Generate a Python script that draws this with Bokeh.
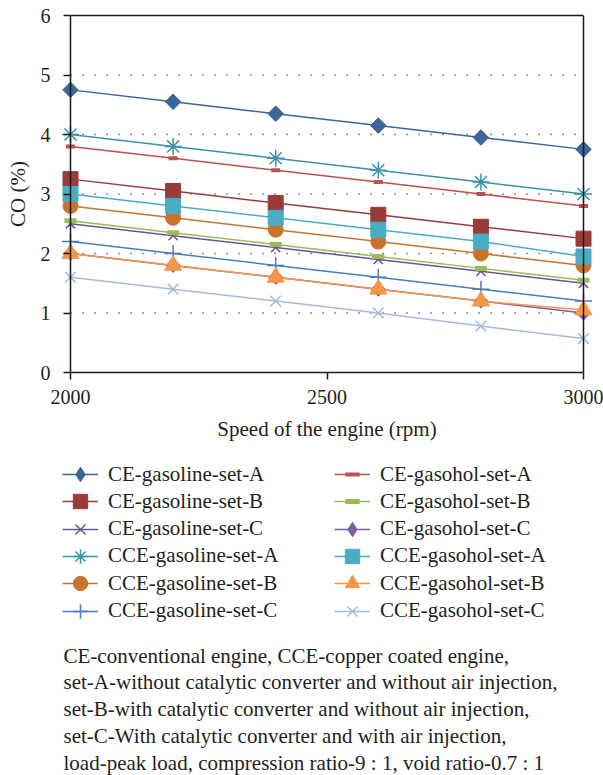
import numpy as np
from bokeh.plotting import figure
from bokeh.layouts import column
from bokeh.models import (Range1d, LinearAxis, FixedTicker, Legend, LegendItem,
                          Label, ColumnDataSource, Span)
from bokeh.embed import file_html
from bokeh.resources import INLINE

# ---------------- data ----------------
speed = [2000, 2200, 2400, 2600, 2800, 3000]

ce_gasoline_a = [4.75, 4.55, 4.35, 4.15, 3.95, 3.75]
ce_gasoline_b = [3.25, 3.05, 2.85, 2.65, 2.45, 2.25]
ce_gasoline_c = [2.50, 2.30, 2.10, 1.90, 1.70, 1.50]
cce_gasoline_a = [4.00, 3.80, 3.60, 3.40, 3.20, 3.00]
cce_gasoline_b = [2.80, 2.60, 2.40, 2.20, 2.00, 1.80]
cce_gasoline_c = [2.20, 2.00, 1.80, 1.60, 1.40, 1.20]
ce_gasohol_a = [3.80, 3.60, 3.40, 3.20, 3.00, 2.80]
ce_gasohol_b = [2.55, 2.35, 2.15, 1.95, 1.75, 1.55]
ce_gasohol_c = [2.00, 1.80, 1.60, 1.40, 1.20, 1.00]
cce_gasohol_a = [3.00, 2.80, 2.60, 2.40, 2.20, 1.95]
cce_gasohol_b = [2.00, 1.80, 1.60, 1.40, 1.20, 1.05]
cce_gasohol_c = [1.60, 1.40, 1.20, 1.00, 0.78, 0.57]

series_names = ["CE-gasoline-set-A", "CE-gasoline-set-B", "CE-gasoline-set-C",
                "CCE-gasoline-set-A", "CCE-gasoline-set-B", "CCE-gasoline-set-C",
                "CE-gasohol-set-A", "CE-gasohol-set-B", "CE-gasohol-set-C",
                "CCE-gasohol-set-A", "CCE-gasohol-set-B", "CCE-gasohol-set-C"]
series_values = [ce_gasoline_a, ce_gasoline_b, ce_gasoline_c,
                 cce_gasoline_a, cce_gasoline_b, cce_gasoline_c,
                 ce_gasohol_a, ce_gasohol_b, ce_gasohol_c,
                 cce_gasohol_a, cce_gasohol_b, cce_gasohol_c]

x_ticks = [2000, 2500, 3000]
y_ticks = [0, 1, 2, 3, 4, 5, 6]
grid_ticks = [1, 2, 3, 4, 5]
y_min, y_max = 0, 6

x_title = "Speed of the engine (rpm)"
y_title = "CO (%)"
caption_lines = [
    "CE-conventional engine, CCE-copper coated engine,",
    "set-A-without catalytic converter and without air injection,",
    "set-B-with catalytic converter and without air injection,",
    "set-C-With catalytic converter and with air injection,",
    "load-peak load, compression ratio-9 : 1, void ratio-0.7 : 1",
]

# ---------------- styles ----------------
colors = ["#3D6598", "#983B39", "#6C5593", "#3A93A6", "#C8742F", "#4A7EBB",
          "#C0504D", "#9BBB59", "#7D5FA0", "#4BACC6", "#F79646", "#A5B9DB"]
markers = ["square", "square", "x", "asterisk", "circle", "cross",
           "dash", "dash", "square", "square", "triangle", "x"]
legend_markers = ["diamond", "square", "x", "asterisk", "circle", "cross",
                  "dash", "dash", "diamond", "square", "triangle", "x"]
msizes = [11, 15, 13, 17, 15, 17, 9, 12, 10, 15, 17, 15]
mangles = [np.pi / 4, 0, 0, 0, 0, 0, 0, 0, np.pi / 4, 0, 0, 0]
mlw = [1, 1, 1.5, 1.5, 1, 1.5, 4, 5, 1, 1, 1, 1.5]

FONT = "Liberation Serif"
TXT = "#231F20"
AX = "#1a1a1a"

# ---------------- chart figure ----------------
W = 603
H1 = 452
ML, MR, MT, MB = 60, 10, 15, 80
frame_w = W - ML - MR
pad_px = 10
x_lo, x_hi = speed[0], speed[-1]
d = pad_px / (frame_w - 2 * pad_px) * (x_hi - x_lo)

p = figure(width=W, height=H1, title=None,
           x_range=Range1d(x_lo - d, x_hi + d), y_range=Range1d(y_min, y_max),
           output_backend="svg", toolbar_location=None,
           min_border_left=ML, min_border_right=MR,
           min_border_top=MT, min_border_bottom=MB)
p.outline_line_color = None
p.xgrid.visible = False
p.ygrid.visible = False

yax = p.yaxis[0]
xax = p.xaxis[0]
for ax in (yax, xax):
    ax.minor_tick_line_color = None
    ax.minor_tick_in = 0
    ax.minor_tick_out = 0
    ax.axis_line_width = 1.5
    ax.axis_line_color = AX
    ax.major_tick_line_color = AX
    ax.major_tick_line_width = 1.5
    ax.major_label_text_font = FONT
    ax.major_label_text_font_size = "20px"
    ax.major_label_text_color = TXT
    ax.axis_label_text_font = FONT
    ax.axis_label_text_font_size = "21px"
    ax.axis_label_text_font_style = "normal"
    ax.axis_label_text_color = TXT

# y axis: ticks reach from 3 px to 10 px inside the frame edge, i.e. to x = 2000
yax.ticker = FixedTicker(ticks=y_ticks)
yax.axis_label = y_title
yax.axis_line_color = None
yax.major_tick_in = 10
yax.major_tick_out = -3
yax.major_label_standoff = 10
yax.axis_label_standoff = 8

xax.bounds = (x_lo, x_hi)
xax.ticker = FixedTicker(ticks=x_ticks)
xax.axis_label = x_title
xax.major_tick_in = 0
xax.major_tick_out = 7
xax.major_label_standoff = 10
xax.axis_label_standoff = 10

# frame edges: top (bounded axis), left at 2000, right at 3000
top_ax = LinearAxis(bounds=(x_lo, x_hi), ticker=FixedTicker(ticks=[]),
                    major_tick_line_color=None, minor_tick_line_color=None,
                    major_label_text_color=None, major_tick_in=0, major_tick_out=0,
                    minor_tick_in=0, minor_tick_out=0, major_label_standoff=0,
                    axis_line_width=1.5, axis_line_color=AX)
p.add_layout(top_ax, "above")
p.add_layout(Span(location=x_lo, dimension="height", line_color=AX, line_width=1.5))
p.add_layout(Span(location=x_hi, dimension="height", line_color=AX, line_width=1.5))

# dotted horizontal gridlines between 2000 and 3000
p.multi_line(xs=[[x_lo, x_hi] for _ in grid_ticks], ys=[[t, t] for t in grid_ticks],
             line_color="#222222", line_width=1.3, line_dash="1 11")

sources = []
for name, vals, c, m, s, a, lw in zip(series_names, series_values, colors,
                                     markers, msizes, mangles, mlw):
    src = ColumnDataSource(dict(x=speed, y=vals))
    sources.append(src)
    p.line("x", "y", source=src, line_color=c, line_width=1.5)
    p.scatter("x", "y", source=src, marker=m, size=s, angle=a,
              fill_color=c, line_color=c, line_width=lw)

# ---------------- legend + caption figure ----------------
# (its frame is aligned by the column layout with the chart's frame: left edge at ML)
H2 = 775 - H1
q = figure(width=W, height=H2, title=None, x_range=Range1d(0, W - ML - MR),
           y_range=Range1d(0, H2), output_backend="svg", toolbar_location=None,
           min_border_left=ML, min_border_right=MR, min_border_top=0,
           min_border_bottom=0)
q.axis.visible = False
q.grid.visible = False
q.outline_line_color = None

items = []
for name, src, c, m, lw in zip(series_names, sources, colors, legend_markers, mlw):
    l = q.line("x", "y", source=src, line_color=c, line_width=1.5, visible=False)
    sc = q.scatter("x", "y", source=src, marker=m, fill_color=c, line_color=c,
                   line_width=lw, visible=False)
    items.append(LegendItem(label=name, renderers=[l, sc]))

glyph_h = 36
row1_center = 474
row_pitch = 27.3
col_left_page = [62, 334]

for i, it in enumerate(items):
    col, row = divmod(i, 6)
    center = row1_center + row * row_pitch
    bottom_page = center + glyph_h / 2
    q.add_layout(Legend(items=[it], location=(col_left_page[col] - ML, 775 - bottom_page),
                        orientation="vertical", glyph_width=36, glyph_height=glyph_h,
                        label_height=glyph_h, spacing=0, label_standoff=10,
                        padding=0, margin=0, border_line_color=None,
                        background_fill_alpha=0, label_text_font=FONT,
                        label_text_font_size="21px", label_text_color=TXT,
                        label_text_baseline="middle"))

cap_x_page = 63
cap_first = 655
cap_step = 26.75
for i, t in enumerate(caption_lines):
    yc = cap_first + i * cap_step
    q.add_layout(Label(x=cap_x_page - ML, y=775 - yc, x_units="screen", y_units="screen",
                       text=t, text_font=FONT, text_font_size="21px",
                       text_color=TXT, text_baseline="middle", text_align="left"))

layout = column(p, q, spacing=0)
open("out.html", "w").write(file_html(layout, INLINE))
